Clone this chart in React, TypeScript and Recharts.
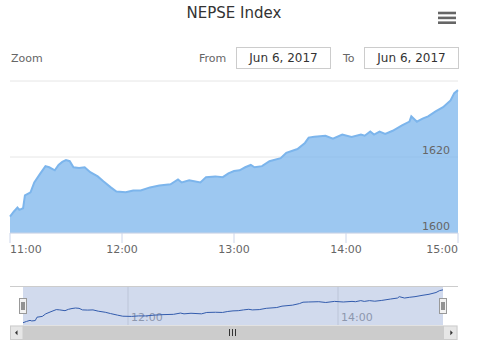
import React from "react";
import { AreaChart, Area, LineChart, Line, XAxis, YAxis, CartesianGrid, ReferenceArea, ReferenceLine } from "recharts";

const chartTitle = "NEPSE Index";
const dateFrom = "Jun 6, 2017";
const dateTo = "Jun 6, 2017";

const times = [
  "11:00", "11:02", "11:04", "11:05", "11:07", "11:08", "11:11", "11:13", "11:16", "11:19",
  "11:21", "11:24", "11:26", "11:28", "11:30", "11:32", "11:34", "11:37", "11:40", "11:43",
  "11:47", "11:50", "11:54", "11:57", "12:02", "12:06", "12:10", "12:15", "12:20", "12:26",
  "12:30", "12:32", "12:36", "12:42", "12:45", "12:50", "12:54", "12:57", "13:00", "13:03",
  "13:06", "13:09", "13:11", "13:15", "13:19", "13:25", "13:28", "13:34", "13:38", "13:40",
  "13:43", "13:49", "13:53", "13:58", "14:03", "14:08", "14:10", "14:13", "14:15", "14:18",
  "14:21", "14:25", "14:30", "14:34", "14:35", "14:38", "14:41", "14:44", "14:48", "14:52",
  "14:56", "14:58", "15:00",
];

const nepse = [
  1604.3, 1605.6, 1606.7, 1606.1, 1606.5, 1609.9, 1610.7, 1613.3, 1615.5, 1617.6,
  1617.3, 1616.5, 1617.9, 1618.7, 1619.2, 1618.9, 1617.3, 1617.1, 1617.3, 1616.0,
  1614.9, 1613.6, 1612.0, 1610.9, 1610.7, 1611.2, 1611.2, 1612.0, 1612.5, 1612.8,
  1614.1, 1613.3, 1613.9, 1613.3, 1614.7, 1614.9, 1614.7, 1615.7, 1616.3, 1616.5,
  1617.3, 1617.9, 1617.3, 1617.6, 1618.9, 1619.7, 1621.1, 1622.1, 1623.7, 1625.1,
  1625.3, 1625.6, 1624.8, 1625.9, 1625.3, 1625.9, 1625.6, 1626.7, 1625.9, 1626.7,
  1626.1, 1626.9, 1628.3, 1629.3, 1630.7, 1629.3, 1630.1, 1630.7, 1632.0, 1633.1,
  1634.9, 1636.8, 1637.6,
];

const xTickLabels = ["11:00", "12:00", "13:00", "14:00", "15:00"];
const yTicks = [1600, 1620, 1640];
const navTickLabels = ["12:00", "14:00"];

const toMin = (s: string) => {
  const [h, m] = s.split(":").map(Number);
  return h * 60 + m;
};
const fmt = (m: number) => `${Math.floor(m / 60)}:${String(m % 60).padStart(2, "0")}`;

const rows = times.map((t, i) => ({ t: toMin(t), v: nepse[i] }));
const xTicks = xTickLabels.map(toMin);
const xDomain = [toMin(times[0]), toMin(times[times.length - 1])];
const navTicks = navTickLabels.map(toMin);

const FONT = "'DejaVu Sans', Verdana, sans-serif";

const XTick = (props: any) => {
  const { x, y, payload, index } = props;
  const last = index === xTicks.length - 1;
  const anchor = index === 0 ? "start" : last ? "end" : "middle";
  return (
    <text x={x} y={y} dy={8} textAnchor={anchor} fill="#666" fontSize={11} fontFamily={FONT}>
      {fmt(payload.value)}
    </text>
  );
};

const YTick = (props: any) => {
  const { x, y, payload } = props;
  if (payload.value === yTicks[yTicks.length - 1]) return null;
  return (
    <text x={x} y={y} dy={-3} textAnchor="end" fill="#666" fontSize={11} fontFamily={FONT}>
      {payload.value}
    </text>
  );
};

const NavLabel = (props: any) => {
  const { viewBox, text } = props;
  if (!viewBox) return null;
  return (
    <text x={viewBox.x + 3} y={viewBox.y + viewBox.height - 4} fill="#8d97ad" fontSize={11} fontFamily={FONT}>
      {text}
    </text>
  );
};

export default function App() {
  return (
    <div style={{ position: "absolute", left: 0, top: 0, width: 477, height: 355, background: "#fff", fontFamily: FONT }}>
      <div style={{ position: "absolute", left: 0, top: 0 }}>
        <AreaChart width={477} height={263} data={rows} margin={{ top: 81, right: 19, left: 10, bottom: 0 }}>
          <CartesianGrid vertical={false} stroke="#e6e6e6" />
          <XAxis
            dataKey="t"
            type="number"
            domain={xDomain}
            ticks={xTicks}
            interval={0}
            tickSize={10}
            height={30}
            stroke="#ccd6eb"
            tick={<XTick />}
          />
          <YAxis
            orientation="right"
            mirror
            domain={[1600, 1640]}
            ticks={yTicks}
            axisLine={false}
            tickLine={false}
            tick={<YTick />}
          />
          <Area
            type="linear"
            dataKey="v"
            stroke="#7cb5ec"
            strokeWidth={2}
            fill="#7cb5ec"
            fillOpacity={0.75}
            dot={false}
            activeDot={false}
            isAnimationActive={false}
          />
        </AreaChart>
      </div>
      <div style={{ position: "absolute", left: 0, top: 0 }}>
        <LineChart width={477} height={355} data={rows} margin={{ top: 286, right: 34, left: 23, bottom: 30 }}>
          <XAxis dataKey="t" type="number" domain={xDomain} hide />
          <YAxis domain={[1602, 1641.5]} hide />
          <ReferenceArea x1={xDomain[0]} x2={xDomain[1]} fill="#6685c2" fillOpacity={0.3} stroke="none" />
          {navTicks.map((t, i) => (
            <ReferenceLine key={t} x={t} stroke="#bcc5d8" label={<NavLabel text={navTickLabels[i]} />} />
          ))}
          <Line type="linear" dataKey="v" stroke="#335cad" strokeWidth={1} dot={false} activeDot={false} isAnimationActive={false} />
        </LineChart>
      </div>
      <svg width={477} height={355} style={{ position: "absolute", left: 0, top: 0, pointerEvents: "none" }}>
        <text x={234} y={18} textAnchor="middle" fill="#333" fontSize={15} fontFamily={FONT}>
          {chartTitle}
        </text>
        <rect x={438} y={11.7} width={18} height={2.6} fill="#666" />
        <rect x={438} y={16.6} width={18} height={2.6} fill="#666" />
        <rect x={438} y={21.4} width={18} height={2.6} fill="#666" />

        <text x={11} y={62} fill="#666" fontSize={11} fontFamily={FONT}>Zoom</text>
        <text x={199} y={62} fill="#666" fontSize={11} fontFamily={FONT}>From</text>
        <rect x={236.5} y={47.5} width={94} height={21} fill="#fff" stroke="#ccc" />
        <text x={283.5} y={62} textAnchor="middle" fill="#333" fontSize={12} fontFamily={FONT}>{dateFrom}</text>
        <text x={343} y={62} fill="#666" fontSize={11} fontFamily={FONT}>To</text>
        <rect x={364.5} y={47.5} width={94} height={21} fill="#fff" stroke="#ccc" />
        <text x={411.5} y={62} textAnchor="middle" fill="#333" fontSize={12} fontFamily={FONT}>{dateTo}</text>

        <line x1={10} x2={458} y1={286.5} y2={286.5} stroke="#ccc" />
        <rect x={10} y={325.5} width={448} height={14.5} fill="#f2f2f2" />
        <rect x={23} y={325.5} width={420} height={14.5} fill="#cccccc" />
        <rect x={10.5} y={326} width={12.5} height={13.5} fill="#e6e6e6" stroke="#ccc" />
        <rect x={443.5} y={326} width={13.5} height={13.5} fill="#e6e6e6" stroke="#ccc" />
        <polygon points="15,332.8 17.5,330.3 17.5,335.3" fill="#333" />
        <polygon points="452.8,332.8 450.3,330.3 450.3,335.3" fill="#333" />
        <line x1={229.5} x2={229.5} y1={329} y2={336} stroke="#333" />
        <line x1={232.5} x2={232.5} y1={329} y2={336} stroke="#333" />
        <line x1={235.5} x2={235.5} y1={329} y2={336} stroke="#333" />

        <rect x={19.5} y={298.5} width={7} height={15} fill="#f2f2f2" stroke="#999" />
        <line x1={22} x2={22} y1={302} y2={310} stroke="#333" />
        <line x1={24} x2={24} y1={302} y2={310} stroke="#333" />
        <rect x={439.5} y={298.5} width={7} height={15} fill="#f2f2f2" stroke="#999" />
        <line x1={442} x2={442} y1={302} y2={310} stroke="#333" />
        <line x1={444} x2={444} y1={302} y2={310} stroke="#333" />
      </svg>
    </div>
  );
}
